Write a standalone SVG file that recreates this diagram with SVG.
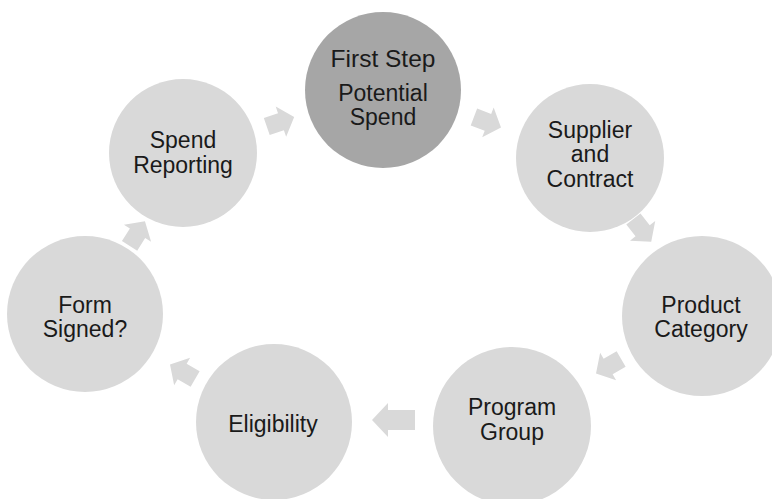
<svg xmlns="http://www.w3.org/2000/svg" width="772" height="499" viewBox="0 0 772 499">
<defs>
<style>
.node{fill:#d9d9d9;}
.first{fill:#a6a6a6;}
.lbl{font-family:"Liberation Sans",Arial,sans-serif;font-size:23px;fill:#1a1a1a;text-anchor:middle;}
.arrow{fill:#d9d9d9;}
</style>
<path id="arr" d="M-14,-9 L1,-9 L1,-16 L15,0 L1,16 L1,9 L-14,9 Z"/>
</defs>
<rect width="772" height="499" fill="#ffffff"/>
<g id="connectors">
<use href="#arr" class="arrow" transform="translate(280,122) rotate(-19)"/>
<use href="#arr" class="arrow" transform="translate(487,122) rotate(21)"/>
<use href="#arr" class="arrow" transform="translate(642,230) rotate(52)"/>
<use href="#arr" class="arrow" transform="translate(609,366) rotate(150)"/>
<path class="arrow" d="M415,410 L388,410 L388,403 L372,420 L388,437 L388,430 L415,430 Z"/>
<use href="#arr" class="arrow" transform="translate(183,372) rotate(210)"/>
<use href="#arr" class="arrow" transform="translate(137,234) rotate(-58)"/>
</g>
<g id="node-potential-spend">
<circle class="first" cx="383" cy="90" r="78"/>
<text class="lbl" x="383" y="67" style="font-size:24.5px">First Step</text>
<text class="lbl" x="383" y="101">Potential</text>
<text class="lbl" x="383" y="125">Spend</text>
</g>
<g id="node-supplier-contract">
<circle class="node" cx="590" cy="158" r="74"/>
<text class="lbl" x="590" y="138">Supplier</text>
<text class="lbl" x="590" y="162">and</text>
<text class="lbl" x="590" y="187">Contract</text>
</g>
<g id="node-product-category">
<circle class="node" cx="702" cy="316" r="80"/>
<text class="lbl" x="701" y="313">Product</text>
<text class="lbl" x="701" y="337">Category</text>
</g>
<g id="node-program-group">
<circle class="node" cx="512" cy="426" r="79"/>
<text class="lbl" x="512" y="415">Program</text>
<text class="lbl" x="512" y="440">Group</text>
</g>
<g id="node-eligibility">
<circle class="node" cx="274" cy="422" r="78"/>
<text class="lbl" x="273" y="432">Eligibility</text>
</g>
<g id="node-form-signed">
<circle class="node" cx="85" cy="314" r="78"/>
<text class="lbl" x="85" y="313">Form</text>
<text class="lbl" x="85" y="337">Signed?</text>
</g>
<g id="node-spend-reporting">
<circle class="node" cx="183" cy="153" r="74"/>
<text class="lbl" x="183" y="148">Spend</text>
<text class="lbl" x="183" y="173">Reporting</text>
</g>
</svg>
